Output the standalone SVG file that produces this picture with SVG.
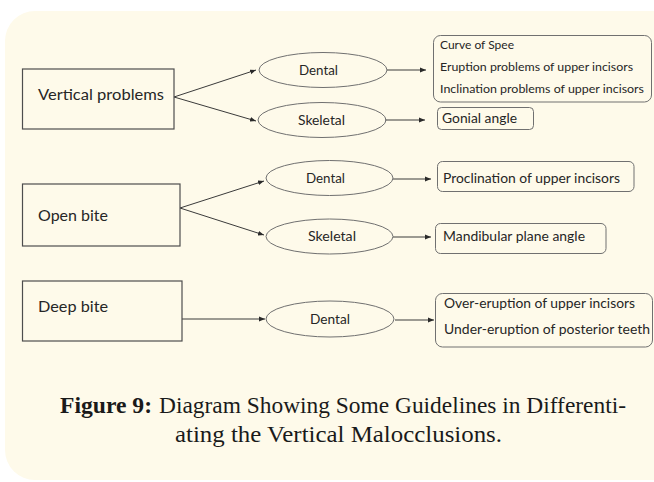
<svg xmlns="http://www.w3.org/2000/svg" width="654" height="482" viewBox="0 0 654 482">
<style>
.lbl{font-family:Lato,"Liberation Sans",sans-serif;fill:#262626}
.main{font-size:15.5px}
.ell{font-size:13px}
.side{font-size:13px}
.small{font-size:11px}
.box{fill:none;stroke:#4d4d4d;stroke-width:1.2}
.oval{fill:none;stroke:#707070;stroke-width:1}
.rbox{fill:none;stroke:#707070;stroke-width:1}
.con{stroke:#3a3a3a;stroke-width:1;fill:none;marker-end:url(#ah)}
.cap{font-family:"Liberation Serif",serif;font-size:24px;fill:#1a1a1a}
</style>
<defs>
<marker id="ah" markerUnits="userSpaceOnUse" markerWidth="7" markerHeight="6" refX="6" refY="3" orient="auto">
<path d="M0,0.6 L6,3 L0,5.4 Z" fill="#2a2a2a"/>
</marker>
</defs>
<rect x="0" y="0" width="654" height="482" fill="#ffffff"/>
<rect x="5" y="11" width="680" height="469" rx="30" fill="#fefaea"/>

<g id="connectors">
<line class="con" x1="174" y1="97" x2="256" y2="70"/>
<line class="con" x1="174" y1="97" x2="256" y2="121"/>
<line class="con" x1="387" y1="70" x2="426" y2="70"/>
<line class="con" x1="385" y1="120" x2="425" y2="120"/>
<line class="con" x1="180" y1="208" x2="264" y2="181"/>
<line class="con" x1="180" y1="208" x2="264" y2="235"/>
<line class="con" x1="393" y1="179" x2="431" y2="179"/>
<line class="con" x1="393" y1="237" x2="431" y2="237"/>
<line class="con" x1="182" y1="319" x2="265" y2="319"/>
<line class="con" x1="395" y1="320" x2="434" y2="320"/>
</g>

<g id="vertical-problems">
<rect class="box" x="22.5" y="69" width="151.5" height="60"/>
<text class="lbl main" x="38" y="100" textLength="126" lengthAdjust="spacingAndGlyphs">Vertical problems</text>
</g>
<g id="open-bite">
<rect class="box" x="22.5" y="184" width="157.5" height="62"/>
<text class="lbl main" x="38" y="221" textLength="70" lengthAdjust="spacingAndGlyphs">Open bite</text>
</g>
<g id="deep-bite">
<rect class="box" x="22.5" y="281" width="159.5" height="60"/>
<text class="lbl main" x="38" y="312" textLength="70" lengthAdjust="spacingAndGlyphs">Deep bite</text>
</g>

<g id="dental-1">
<ellipse class="oval" cx="323" cy="70" rx="64" ry="17.5"/>
<text class="lbl ell" x="299" y="74.5" textLength="39" lengthAdjust="spacingAndGlyphs">Dental</text>
</g>
<g id="skeletal-1">
<ellipse class="oval" cx="322" cy="120" rx="64" ry="17.5"/>
<text class="lbl ell" x="298" y="124.5" textLength="47" lengthAdjust="spacingAndGlyphs">Skeletal</text>
</g>
<g id="dental-2">
<ellipse class="oval" cx="329.5" cy="178" rx="63.5" ry="17.5"/>
<text class="lbl ell" x="306" y="182.5" textLength="39" lengthAdjust="spacingAndGlyphs">Dental</text>
</g>
<g id="skeletal-2">
<ellipse class="oval" cx="329.5" cy="236.5" rx="63.5" ry="17.5"/>
<text class="lbl ell" x="308" y="241" textLength="48" lengthAdjust="spacingAndGlyphs">Skeletal</text>
</g>
<g id="dental-3">
<ellipse class="oval" cx="330" cy="319" rx="64" ry="18"/>
<text class="lbl ell" x="310" y="323.5" textLength="40" lengthAdjust="spacingAndGlyphs">Dental</text>
</g>

<g id="vp-dental-list">
<rect class="rbox" x="433.5" y="35.5" width="218" height="66.5" rx="7"/>
<text class="lbl small" x="440" y="49" textLength="74" lengthAdjust="spacingAndGlyphs">Curve of Spee</text>
<text class="lbl small" x="440" y="71" textLength="193" lengthAdjust="spacingAndGlyphs">Eruption problems of upper incisors</text>
<text class="lbl small" x="440" y="93" textLength="204" lengthAdjust="spacingAndGlyphs">Inclination problems of upper incisors</text>
</g>
<g id="gonial-angle">
<rect class="rbox" x="437.5" y="107.5" width="96" height="22" rx="4"/>
<text class="lbl side" x="442" y="123" textLength="75" lengthAdjust="spacingAndGlyphs">Gonial angle</text>
</g>
<g id="proclination">
<rect class="rbox" x="437.5" y="161.5" width="196.5" height="30" rx="5"/>
<text class="lbl side" x="443" y="183" textLength="177" lengthAdjust="spacingAndGlyphs">Proclination of upper incisors</text>
</g>
<g id="mandibular-plane">
<rect class="rbox" x="435.5" y="223.5" width="170.5" height="30" rx="5"/>
<text class="lbl side" x="443" y="241" textLength="142" lengthAdjust="spacingAndGlyphs">Mandibular plane angle</text>
</g>
<g id="deep-bite-list">
<rect class="rbox" x="435.5" y="293.5" width="217" height="53.5" rx="7"/>
<text class="lbl side" x="444" y="308" textLength="191" lengthAdjust="spacingAndGlyphs">Over-eruption of upper incisors</text>
<text class="lbl side" x="444" y="334" textLength="206" lengthAdjust="spacingAndGlyphs">Under-eruption of posterior teeth</text>
</g>

<g id="caption">
<text class="cap" x="60" y="413" font-weight="bold" textLength="92" lengthAdjust="spacingAndGlyphs">Figure 9:</text>
<text class="cap" x="159" y="413" textLength="467" lengthAdjust="spacingAndGlyphs">Diagram Showing Some Guidelines in Differenti-</text>
<text class="cap" x="175" y="442" textLength="327" lengthAdjust="spacingAndGlyphs">ating the Vertical Malocclusions.</text>
</g>
</svg>
